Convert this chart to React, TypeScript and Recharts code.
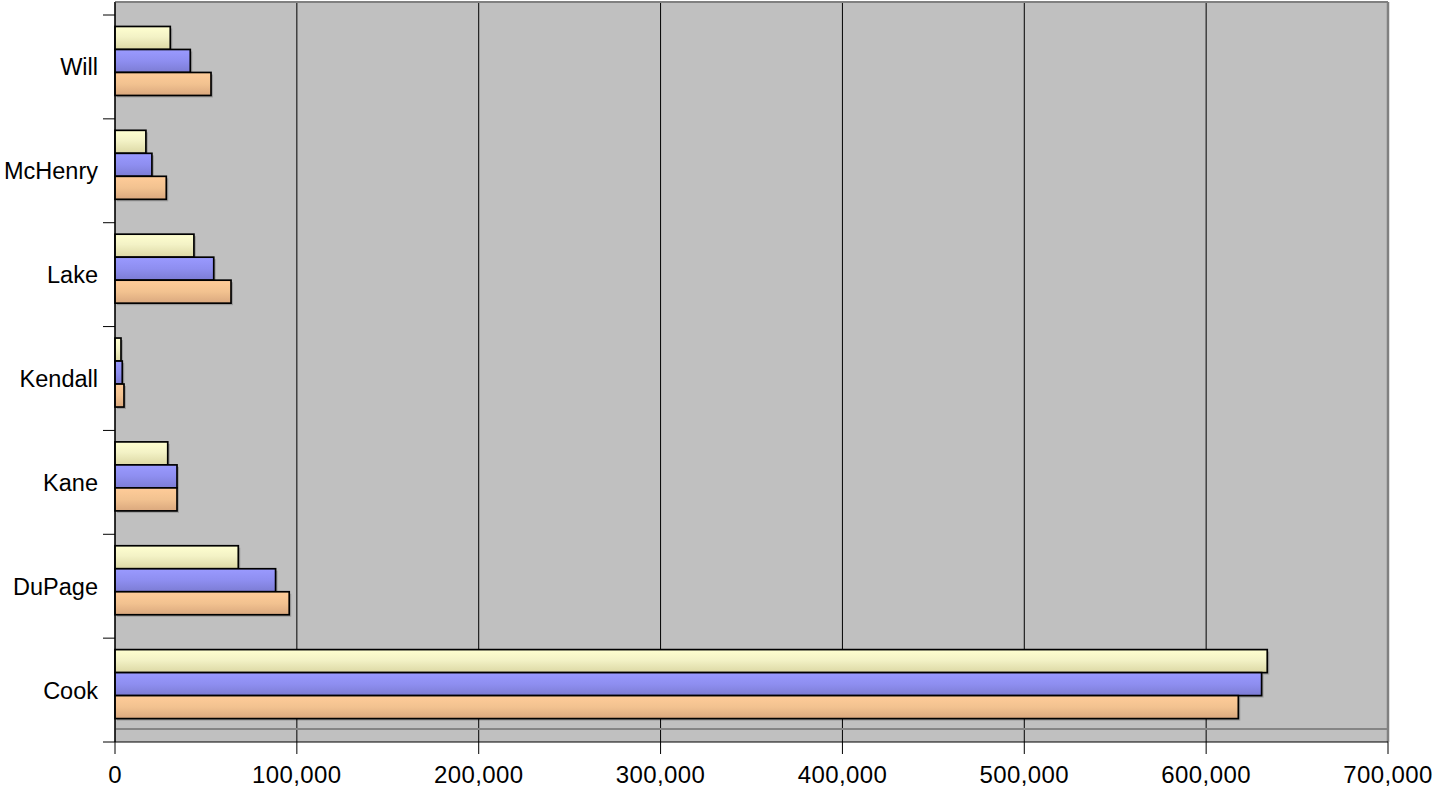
import React from 'react';
import { BarChart, Bar, XAxis, YAxis, CartesianGrid, ReferenceLine } from 'recharts';

const categories = ['Will', 'McHenry', 'Lake', 'Kendall', 'Kane', 'DuPage', 'Cook'];
const seriesYellow = [30400, 17000, 43400, 3300, 29000, 67800, 633600];
const seriesBlue = [41400, 20300, 54300, 4000, 34100, 88300, 630500];
const seriesOrange = [52800, 28200, 63800, 4950, 34100, 95800, 617700];
const xTicks = [0, 100000, 200000, 300000, 400000, 500000, 600000, 700000];

const data = categories.map((name, i) => ({
  name,
  yellow: seriesYellow[i],
  blue: seriesBlue[i],
  orange: seriesOrange[i],
}));

const W = 1438;
const H = 791;
const PLOT_LEFT = 115;
const PLOT_RIGHT = 1388;
const PLOT_BOTTOM = 742;
const CAT_TOP = 15;
const BAND = (PLOT_BOTTOM - CAT_TOP) / categories.length;
const SHIFT = 6.5;
const FONT = '"Liberation Sans", Arial, Helvetica, sans-serif';

const BarShape = (props: any) => {
  const { x, y, width, height, fill } = props;
  if (width == null || height == null) return null;
  const yy = y - SHIFT;
  return (
    <g>
      <rect x={x + 2} y={yy + 2} width={Math.max(width, 0)} height={height} fill="rgba(0,0,0,0.18)" />
      <rect x={x} y={yy} width={Math.max(width, 0)} height={height} fill={fill} stroke="#000" strokeWidth={1.7} />
    </g>
  );
};

const YTick = (props: any) => {
  const { y, payload, index } = props;
  const top = y - BAND / 2;
  const bottom = y + BAND / 2;
  return (
    <g>
      <line x1={PLOT_LEFT - 12} x2={PLOT_LEFT} y1={top} y2={top} stroke="#000" strokeWidth={1} />
      {index === categories.length - 1 && (
        <line x1={PLOT_LEFT - 12} x2={PLOT_LEFT} y1={bottom} y2={bottom} stroke="#000" strokeWidth={1} />
      )}
      <text
        x={PLOT_LEFT - 17}
        y={y}
        dy="0.36em"
        textAnchor="end"
        fill="#000"
        fontSize={23.5}
        fontFamily={FONT}
      >
        {payload.value}
      </text>
    </g>
  );
};

export default function App() {
  return (
    <div style={{ position: 'absolute', left: 0, top: 0, width: W, height: H, background: '#fff' }}>
      <BarChart
        width={W}
        height={H}
        data={data}
        layout="vertical"
        margin={{ top: 0, right: W - PLOT_RIGHT, bottom: 0, left: 0 }}
        barCategoryGap="17.3%"
        barGap={0}
      >
        <defs>
          <linearGradient id="gYellow" x1="0" y1="0" x2="0" y2="1">
            <stop offset="0%" stopColor="#FFFFD0" />
            <stop offset="45%" stopColor="#F3F2C6" />
            <stop offset="100%" stopColor="#DCD8A4" />
          </linearGradient>
          <linearGradient id="gBlue" x1="0" y1="0" x2="0" y2="1">
            <stop offset="0%" stopColor="#9A9AFF" />
            <stop offset="50%" stopColor="#8E8EF0" />
            <stop offset="100%" stopColor="#7C7CD4" />
          </linearGradient>
          <linearGradient id="gOrange" x1="0" y1="0" x2="0" y2="1">
            <stop offset="0%" stopColor="#FFCC99" />
            <stop offset="50%" stopColor="#F2C290" />
            <stop offset="100%" stopColor="#DAA87E" />
          </linearGradient>
        </defs>
        <CartesianGrid horizontal={false} vertical={true} stroke="#000" strokeOpacity={1} fill="#C0C0C0" />
        <XAxis
          type="number"
          domain={[0, 700000]}
          ticks={xTicks}
          interval={0}
          height={H - PLOT_BOTTOM}
          tickSize={12}
          tickMargin={12}
          axisLine={{ stroke: '#000', strokeWidth: 1.2 }}
          tickLine={{ stroke: '#000' }}
          tick={{ fill: '#000', fontSize: 24, fontFamily: FONT, letterSpacing: 0.4 }}
          tickFormatter={(v: number) => v.toLocaleString('en-US')}
        />
        <XAxis
          xAxisId="top"
          orientation="top"
          type="number"
          domain={[0, 700000]}
          height={2}
          tick={false}
          tickLine={false}
          axisLine={{ stroke: '#808080', strokeWidth: 2 }}
        />
        <YAxis
          type="category"
          dataKey="name"
          width={PLOT_LEFT}
          padding={{ top: CAT_TOP - 2, bottom: 0 }}
          tickLine={false}
          axisLine={{ stroke: '#000', strokeWidth: 1.2 }}
          tick={<YTick />}
          interval={0}
        />
        <ReferenceLine x={700000} stroke="#808080" strokeWidth={2.5} />
        <Bar dataKey="yellow" fill="url(#gYellow)" shape={<BarShape />} isAnimationActive={false} />
        <Bar dataKey="blue" fill="url(#gBlue)" shape={<BarShape />} isAnimationActive={false} />
        <Bar dataKey="orange" fill="url(#gOrange)" shape={<BarShape />} isAnimationActive={false} />
      </BarChart>
      <div
        style={{
          position: 'absolute',
          left: PLOT_LEFT + 1,
          top: PLOT_BOTTOM - 14,
          width: PLOT_RIGHT - PLOT_LEFT - 2,
          height: 2,
          background: '#858585',
          pointerEvents: 'none',
        }}
      />
    </div>
  );
}
